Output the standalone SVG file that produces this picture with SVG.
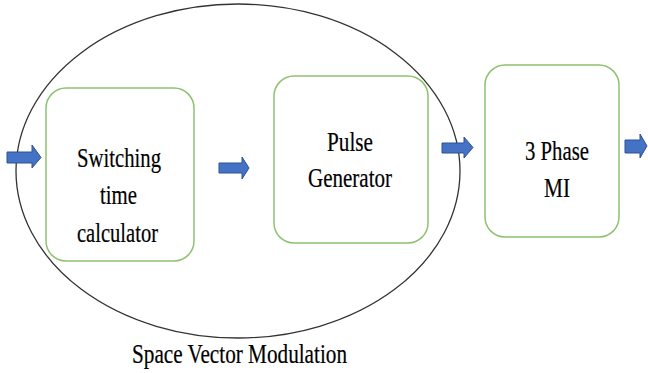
<svg xmlns="http://www.w3.org/2000/svg" width="648" height="373" viewBox="0 0 648 373">
<style>
.box{fill:none;stroke:#8DC26F;stroke-width:1.5}
.t{font-family:"Times New Roman",Times,"Liberation Serif",Tinos,"Noto Serif","DejaVu Serif",FreeSerif,serif;font-size:27px;fill:#000;stroke:#000;stroke-width:0.2;text-anchor:middle}
.arr{fill:#4472C4;stroke:#2F528F;stroke-width:1}
</style>
<rect width="648" height="373" fill="#fff"/>
<g id="svm">
<ellipse cx="238" cy="171" rx="222" ry="167" fill="none" stroke="#333" stroke-width="1.3"/>
<text class="t" x="239.5" y="363" textLength="215" lengthAdjust="spacingAndGlyphs">Space Vector Modulation</text>
</g>
<g id="switching">
<rect class="box" x="46" y="88" width="148" height="173" rx="20"/>
<text class="t" x="119" y="167" textLength="84" lengthAdjust="spacingAndGlyphs">Switching</text>
<text class="t" x="118.5" y="204" textLength="37" lengthAdjust="spacingAndGlyphs">time</text>
<text class="t" x="117.5" y="242" textLength="81" lengthAdjust="spacingAndGlyphs">calculator</text>
</g>
<g id="pulse">
<rect class="box" x="274" y="76" width="154" height="167" rx="20"/>
<text class="t" x="350" y="151" textLength="46" lengthAdjust="spacingAndGlyphs">Pulse</text>
<text class="t" x="350" y="187" textLength="84" lengthAdjust="spacingAndGlyphs">Generator</text>
</g>
<g id="mi">
<rect class="box" x="485" y="65" width="134" height="172" rx="20"/>
<text class="t" x="557" y="160" textLength="64" lengthAdjust="spacingAndGlyphs">3 Phase</text>
<text class="t" x="557" y="197" textLength="26" lengthAdjust="spacingAndGlyphs">MI</text>
</g>
<g id="connectors">
<path class="arr" d="M7,152 H32 V145 L41,157.5 L32,168 V163 H7 Z"/>
<path class="arr" d="M219,163 H242 V157 L249,168 L242,179 V173 H219 Z"/>
<path class="arr" d="M442,143 H464 V137 L473,147.5 L464,158 V153 H442 Z"/>
<path class="arr" d="M625,140 H640 V134 L647,146 L640,158 V153 H625 Z"/>
</g>
</svg>
